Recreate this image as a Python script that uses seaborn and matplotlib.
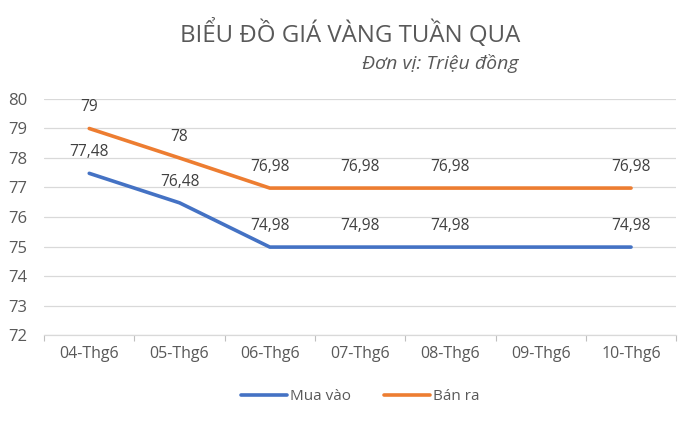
import numpy as np
import pandas as pd
import matplotlib
matplotlib.use("Agg")
import matplotlib.pyplot as plt
import seaborn as sns
from matplotlib.ticker import FixedLocator

categories = ["04-Thg6", "05-Thg6", "06-Thg6", "07-Thg6", "08-Thg6", "09-Thg6", "10-Thg6"]
mua_vao = [77.48, 76.48, 74.98, 74.98, 74.98, np.nan, 74.98]
ban_ra = [79, 78, 76.98, 76.98, 76.98, np.nan, 76.98]
series_names = ["Mua vào", "Bán ra"]
colors = ["#4472C4", "#ED7D31"]
title = "BIỂU ĐỒ GIÁ VÀNG TUẦN QUA"
subtitle = "Đơn vị: Triệu đồng"

sns.set_theme(style="white")
plt.rcParams['font.family'] = ['Open Sans', 'DejaVu Sans']

rows = []
for name, vals in zip(series_names, [mua_vao, ban_ra]):
    for i, v in enumerate(vals):
        rows.append({"idx": i, "value": v, "series": name})
df = pd.DataFrame(rows).dropna()

fig = plt.figure(figsize=(7, 4.23), dpi=100)
ax = fig.add_axes([0.063, 0.208, 0.903, 0.558])

sns.lineplot(data=df, x="idx", y="value", hue="series", hue_order=series_names,
             palette=colors, linewidth=2.6, ax=ax, legend=True, sort=True)

def fmt(v):
    s = f"{v:.2f}".rstrip("0").rstrip(".")
    return s.replace(".", ",")

for vals in [mua_vao, ban_ra]:
    for i, v in enumerate(vals):
        if not np.isnan(v):
            ax.annotate(fmt(v), (i, v), xytext=(0, 9.5), textcoords="offset points",
                        ha="center", va="bottom", fontsize=11.2, color="#404040")

ax.set_xlim(-0.5, len(categories) - 0.5)
ax.set_ylim(72, 80)
ax.set_yticks(range(72, 81))
ax.set_xticks(range(len(categories)))
ax.set_xticklabels(categories)
ax.xaxis.set_minor_locator(FixedLocator(np.arange(-0.5, len(categories), 1)))
ax.tick_params(axis="x", which="major", length=0, labelsize=11.5, labelcolor="#595959", pad=8)
ax.tick_params(axis="x", which="minor", length=4, color="#bfbfbf", width=0.8, direction="out", bottom=True)
ax.tick_params(axis="y", length=0, labelsize=12, labelcolor="#595959", pad=12)
ax.grid(axis="y", color="#d9d9d9", linewidth=0.9)
ax.set_axisbelow(True)
for s in ["top", "right", "left"]:
    ax.spines[s].set_visible(False)
ax.spines["bottom"].set_color("#d9d9d9")
ax.spines["bottom"].set_linewidth(0.9)
ax.set_xlabel("")
ax.set_ylabel("")

leg = ax.legend(loc="upper center", bbox_to_anchor=(0.5, -0.17), ncol=2, frameon=False,
                fontsize=11, handlelength=3.0, handletextpad=0.2, columnspacing=2.2)
for t in leg.get_texts():
    t.set_color("#595959")
for h in leg.get_lines():
    h.set_linewidth(2.6)

fig.text(0.5, 0.92, title, ha="center", va="center", fontsize=17.3, color="#595959")
fig.text(0.74, 0.85, subtitle, ha="right", va="center", fontsize=14, style="italic", color="#595959")

fig.savefig("out.png", dpi=100, facecolor="white")
